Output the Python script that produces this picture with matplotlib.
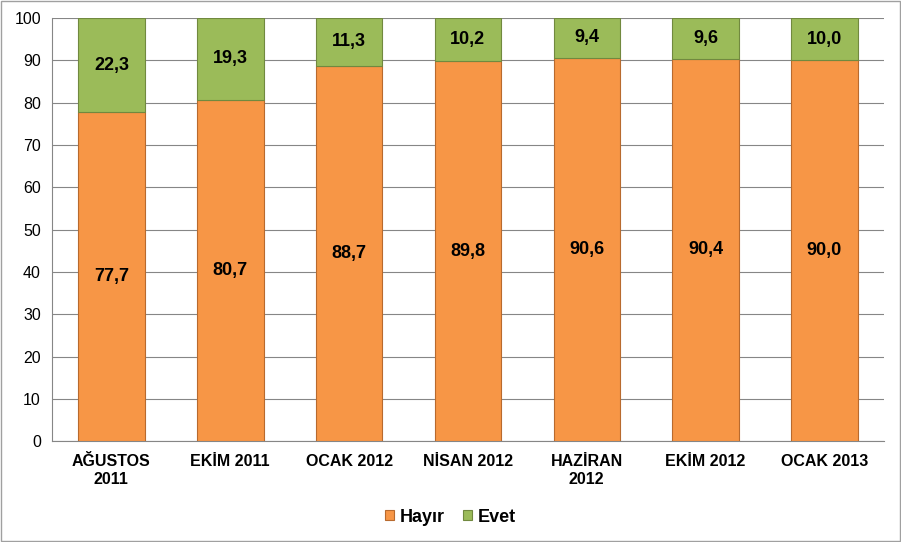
import numpy as np
import matplotlib.pyplot as plt

plt.rcParams['font.family'] = ['Liberation Sans', 'DejaVu Sans']

categories = ['AĞUSTOS\n2011', 'EKİM 2011', 'OCAK 2012', 'NİSAN 2012',
              'HAZİRAN\n2012', 'EKİM 2012', 'OCAK 2013']
hayir = [77.7, 80.7, 88.7, 89.8, 90.6, 90.4, 90.0]
evet = [22.3, 19.3, 11.3, 10.2, 9.4, 9.6, 10.0]

orange = '#F79646'
green = '#9BBB59'

fig = plt.figure(figsize=(9.01, 5.42), dpi=100)
ax = fig.add_axes([0.0577, 0.186, 0.9233, 0.781])

x = np.arange(len(categories))
w = 0.56
b1 = ax.bar(x, hayir, w, color=orange, edgecolor='#B86A2E', linewidth=0.8,
            label='Hayır', zorder=3)
b2 = ax.bar(x, evet, w, bottom=hayir, color=green, edgecolor='#71893F',
            linewidth=0.8, label='Evet', zorder=3)

for i in range(len(categories)):
    ax.text(x[i], hayir[i] / 2, f'{hayir[i]:.1f}'.replace('.', ','),
            ha='center', va='center', fontsize=13, fontweight='bold', zorder=4)
    ax.text(x[i], hayir[i] + evet[i] / 2, f'{evet[i]:.1f}'.replace('.', ','),
            ha='center', va='center', fontsize=13, fontweight='bold', zorder=4)

ax.set_xlim(-0.5, len(categories) - 0.5)
ax.set_ylim(0, 100)
ax.set_yticks(range(0, 101, 10))
ax.yaxis.grid(True, color='#868686', linewidth=0.8, zorder=0)
ax.set_xticks(x)
ax.set_xticklabels(categories, fontweight='bold', fontsize=11.5, linespacing=1.25)
ax.tick_params(axis='y', labelsize=11.5, length=0, pad=8)
ax.tick_params(axis='x', length=0, pad=9)
for s in ['top', 'right']:
    ax.spines[s].set_visible(False)
for s in ['left', 'bottom']:
    ax.spines[s].set_color('#868686')

fig.legend(handles=[b1, b2], loc='center', bbox_to_anchor=(0.5, 0.046), ncol=2,
           frameon=False, prop={'weight': 'bold', 'size': 13},
           handlelength=0.5, handleheight=0.5, handletextpad=0.3, columnspacing=1.0)

fig.patches.append(plt.Rectangle((0.001, 0.001), 0.998, 0.998, transform=fig.transFigure,
                                 fill=False, edgecolor='#A0A0A0', linewidth=1))

fig.savefig('out.png', dpi=100)
